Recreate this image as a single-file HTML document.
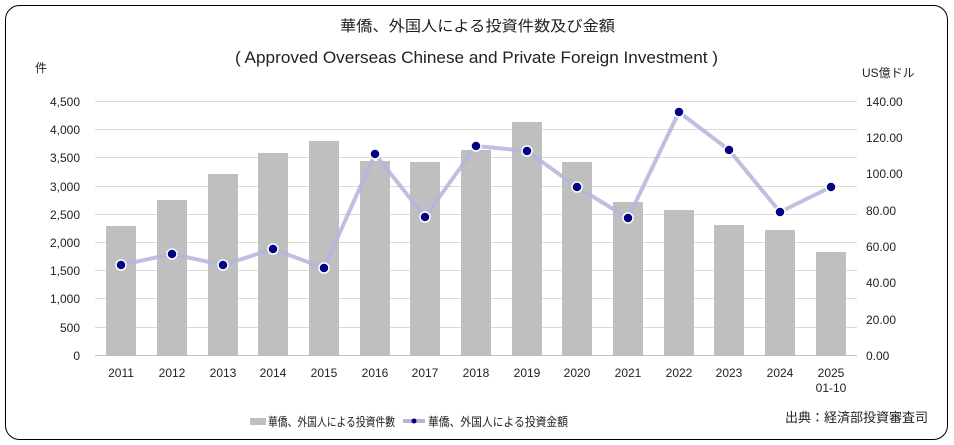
<!DOCTYPE html>
<html><head><meta charset="utf-8"><style>
html,body{margin:0;padding:0;background:#fff;}
svg{display:block;font-family:"Liberation Sans","Noto Sans CJK JP",sans-serif;}
</style></head><body>
<svg width="954" height="445" viewBox="0 0 954 445">
<rect x="5.5" y="5.5" width="942" height="434" rx="14" fill="#fff" stroke="#000" stroke-width="1"/>
<text x="340" y="31" textLength="275" lengthAdjust="spacingAndGlyphs" font-size="15" fill="#222">華僑、外国人による投資件数及び金額</text>
<text x="235" y="63" textLength="483" lengthAdjust="spacingAndGlyphs" font-size="17" fill="#222">( Approved Overseas Chinese and Private Foreign Investment )</text>
<text x="35" y="72" font-size="12" fill="#222">件</text>
<text x="862" y="77" font-size="12" fill="#222">US億ドル</text>
<g stroke="#d9d9d9" stroke-width="1">
<line x1="95" x2="857" y1="101.5" y2="101.5"/><line x1="95" x2="857" y1="129.5" y2="129.5"/>
<line x1="95" x2="857" y1="157.5" y2="157.5"/><line x1="95" x2="857" y1="186.5" y2="186.5"/>
<line x1="95" x2="857" y1="214.5" y2="214.5"/><line x1="95" x2="857" y1="242.5" y2="242.5"/>
<line x1="95" x2="857" y1="270.5" y2="270.5"/><line x1="95" x2="857" y1="298.5" y2="298.5"/>
<line x1="95" x2="857" y1="327.5" y2="327.5"/>
</g>
<line x1="95" x2="857" y1="355.5" y2="355.5" stroke="#bfbfbf"/>
<g font-size="12" fill="#222" text-anchor="end">
<text x="80" y="106">4,500</text><text x="80" y="134">4,000</text><text x="80" y="162">3,500</text>
<text x="80" y="191">3,000</text><text x="80" y="219">2,500</text><text x="80" y="247">2,000</text>
<text x="80" y="275">1,500</text><text x="80" y="303">1,000</text><text x="80" y="332">500</text>
<text x="80" y="360">0</text>
</g>
<g font-size="12" fill="#222">
<text x="866" y="106">140.00</text><text x="866" y="142">120.00</text><text x="866" y="178">100.00</text>
<text x="866" y="215">80.00</text><text x="866" y="251">60.00</text><text x="866" y="287">40.00</text>
<text x="866" y="324">20.00</text><text x="866" y="360">0.00</text>
</g>
<g fill="#bfbfbf">
<rect x="106" y="226" width="30" height="129"/><rect x="157" y="200" width="30" height="155"/>
<rect x="208" y="174" width="30" height="181"/><rect x="258" y="153" width="30" height="202"/>
<rect x="309" y="141" width="30" height="214"/><rect x="360" y="161" width="30" height="194"/>
<rect x="410" y="162" width="30" height="193"/><rect x="461" y="150" width="30" height="205"/>
<rect x="512" y="122" width="30" height="233"/><rect x="562" y="162" width="30" height="193"/>
<rect x="613" y="202" width="30" height="153"/><rect x="664" y="210" width="30" height="145"/>
<rect x="714" y="225" width="30" height="130"/><rect x="765" y="230" width="30" height="125"/>
<rect x="816" y="252" width="30" height="103"/>
</g>
<polyline fill="none" stroke="#b4b4dc" stroke-opacity="0.85" stroke-width="4" stroke-linejoin="round"
points="121,265 172,254 223,265 273,249 324,268 375,154 425,217 476,146 527,151 577,187 628,218 679,112 729,150 780,212 831,187"/>
<g fill="#000080" stroke="#fff" stroke-width="1.5">
<circle cx="121" cy="265" r="5"/><circle cx="172" cy="254" r="5"/><circle cx="223" cy="265" r="5"/>
<circle cx="273" cy="249" r="5"/><circle cx="324" cy="268" r="5"/><circle cx="375" cy="154" r="5"/>
<circle cx="425" cy="217" r="5"/><circle cx="476" cy="146" r="5"/><circle cx="527" cy="151" r="5"/>
<circle cx="577" cy="187" r="5"/><circle cx="628" cy="218" r="5"/><circle cx="679" cy="112" r="5"/>
<circle cx="729" cy="150" r="5"/><circle cx="780" cy="212" r="5"/><circle cx="831" cy="187" r="5"/>
</g>
<g font-size="12" fill="#222" text-anchor="middle">
<text x="121" y="377">2011</text><text x="172" y="377">2012</text><text x="223" y="377">2013</text>
<text x="273" y="377">2014</text><text x="324" y="377">2015</text><text x="375" y="377">2016</text>
<text x="425" y="377">2017</text><text x="476" y="377">2018</text><text x="527" y="377">2019</text>
<text x="577" y="377">2020</text><text x="628" y="377">2021</text><text x="679" y="377">2022</text>
<text x="729" y="377">2023</text><text x="780" y="377">2024</text><text x="831" y="377">2025</text>
<text x="831" y="392">01-10</text>
</g>
<rect x="250" y="418" width="16" height="7" fill="#bfbfbf"/>
<text x="268" y="426" textLength="127" lengthAdjust="spacingAndGlyphs" font-size="12" fill="#222">華僑、外国人による投資件數</text>
<line x1="403" x2="425" y1="421" y2="421" stroke="#b4b4dc" stroke-width="4"/>
<circle cx="414" cy="421" r="2.5" fill="#000080"/>
<text x="428" y="426" textLength="140" lengthAdjust="spacingAndGlyphs" font-size="12" fill="#222">華僑、外国人による投資金額</text>
<text x="928" y="422" text-anchor="end" font-size="13" fill="#222">出典：経済部投資審査司</text>
</svg>
</body></html>
